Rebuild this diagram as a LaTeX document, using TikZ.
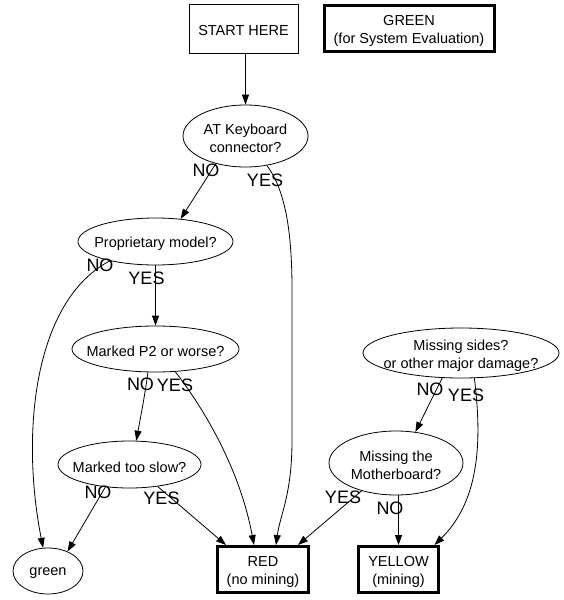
\documentclass[tikz,border=0pt]{standalone}
\usepackage{fontspec}
\setmainfont{Liberation Sans}
\usetikzlibrary{shapes.geometric,arrows.meta}
\begin{document}
\begin{tikzpicture}[x=1pt,y=-1pt,
  every node/.style={inner sep=0pt},
  txt/.style={font=\fontsize{14.5}{18}\selectfont, align=center, yshift=-2.5pt},
  q/.style={draw, ellipse, line width=0.8pt},
  box/.style={draw, rectangle, line width=0.8pt},
  term/.style={draw, rectangle, line width=3pt},
  yn/.style={font=\fontsize{18}{20}\selectfont},
  arr/.style={line width=0.8pt, -{Triangle[length=10pt,width=7pt]}}]
\useasboundingbox (0,0) rectangle (564,600);

% nodes
\node[box, minimum width=109pt, minimum height=49pt, label={[txt]center:START HERE}] (START) at (243.5,28.5) {};
\node[term, minimum width=170pt, minimum height=46pt, label={[txt]center:GREEN\\(for System Evaluation)}] (GREEN) at (409,28.5) {};
\node[q, minimum width=125pt, minimum height=62pt, label={[txt]center:AT Keyboard\\connector?}] (AT) at (245.5,136) {};
\node[q, minimum width=155pt, minimum height=47pt, label={[txt]center:Proprietary model?}] (prop) at (155.5,241.5) {};
\node[q, minimum width=167pt, minimum height=46pt, label={[txt]center:Marked P2 or worse?}] (P2) at (155.5,349) {};
\node[q, minimum width=143pt, minimum height=47pt, label={[txt]center:Marked too slow?}] (slow) at (129.5,464.5) {};
\node[q, minimum width=70pt, minimum height=46pt, label={[txt]center:green}] (green) at (48,571) {};
\node[q, minimum width=196pt, minimum height=50pt, label={[txt]center:Missing sides?\\or other major damage?}] (sides) at (461,353) {};
\node[q, minimum width=134pt, minimum height=64pt, label={[txt]center:Missing the\\Motherboard?}] (mb) at (396,463) {};
\node[term, minimum width=91pt, minimum height=46pt, label={[txt]center:RED\\(no mining)}] (RED) at (263,569.5) {};
\node[term, minimum width=80pt, minimum height=46pt, label={[txt]center:YELLOW\\(mining)}] (YELLOW) at (398.5,569.5) {};

% connectors
\draw[arr] (START.south -| AT.north) -- (AT.north);
\draw[arr] (AT.223) -- (prop.42);
\draw[arr] (AT.306) .. controls (285,190) and (292,230) .. (292,290) -- (292,440) .. controls (292,495) and (280,515) .. ([xshift=13pt]RED.north);
\draw[arr] (prop.203) .. controls (35,300) and (20,430) .. (green.102);
\draw[arr] (prop) -- (P2);
\draw[arr] (P2.252) .. controls (145,395) and (140,420) .. (slow.74);
\draw[arr] (P2.311) .. controls (205,410) and (240,470) .. ([xshift=-9pt]RED.north);
\draw[arr] (slow.223) -- (green.45);
\draw[arr] (slow.322) -- ([xshift=-37pt]RED.north);
\draw[arr] (sides.233) -- (mb.58);
\draw[arr] (sides.298) .. controls (482,440) and (480,500) .. ([xshift=36pt]YELLOW.north);
\draw[arr] (mb.219) -- ([xshift=35pt]RED.north);
\draw[arr] (mb.south -| YELLOW.north) -- (YELLOW.north);

% edge labels
\node[yn] (l1) at (206,170) {NO};
\node[yn] (l2) at (265,180) {YES};
\node[yn] (l3) at (100,265) {NO};
\node[yn] (l4) at (146.5,278) {YES};
\node[yn] (l5) at (140.5,384.5) {NO};
\node[yn] (l6) at (175,385) {YES};
\node[yn] (l7) at (98,492.5) {NO};
\node[yn] (l8) at (161.5,498) {YES};
\node[yn] (l9) at (430,389) {NO};
\node[yn] (l10) at (466,395) {YES};
\node[yn] (l11) at (343,497) {YES};
\node[yn] (l12) at (390,508) {NO};
\end{tikzpicture}
\end{document}
